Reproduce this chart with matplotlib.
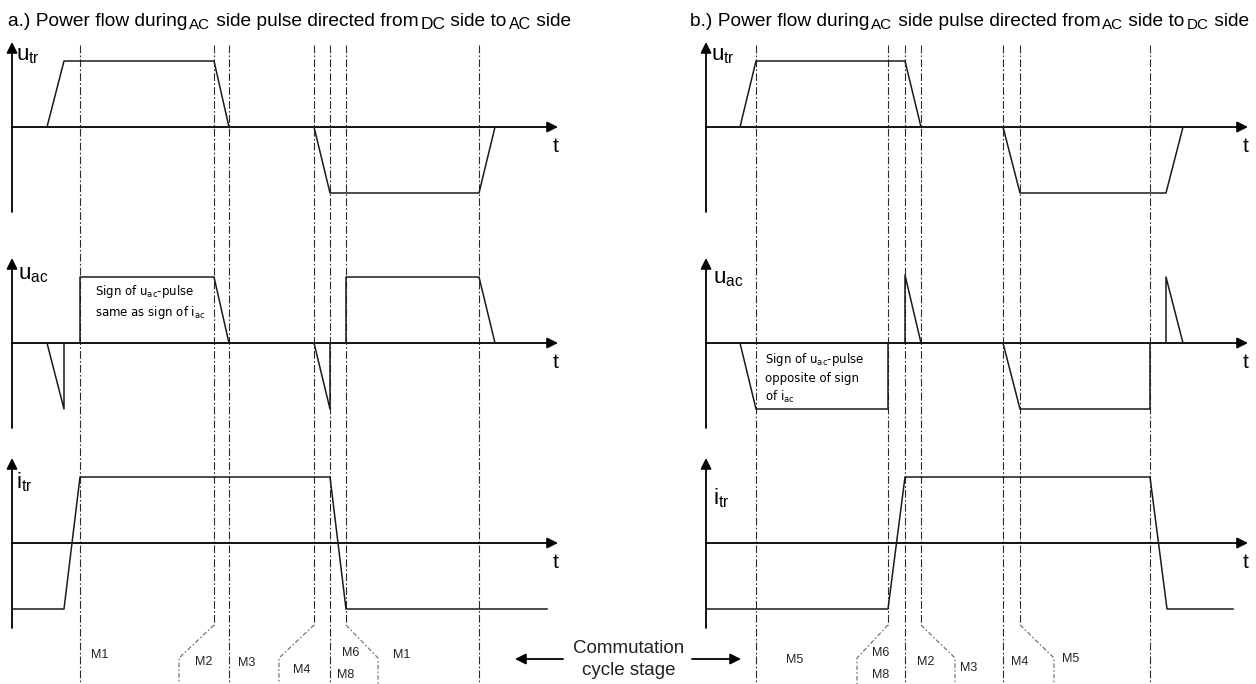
import matplotlib
matplotlib.use("Agg")
from matplotlib import pyplot as plt

plt.rcParams['font.family'] = ['Liberation Sans', 'DejaVu Sans']
plt.rcParams['mathtext.default'] = 'regular'

W, H = 1256, 684
AMP = 66.0          # pixels per unit level
HALF = 85.0         # half height of each trace row (pixels)
ROW_ZERO = [127, 343, 543]

##################################################  data  ##################################################
# time breakpoints (arbitrary time units along the page) and levels (+1 / 0 / -1)
# a.) power flow DC -> AC
a_stage = [80, 214, 229, 314, 330, 346, 479]
a_stage_bent = [214, 314, 346]
a_utr_t = [47, 64, 214, 229, 314, 330, 479, 495]
a_utr_v = [0, 1, 1, 0, 0, -1, -1, 0]
a_uac_t = [47, 64, 64, 80, 80, 214, 229, 314, 330, 330, 346, 346, 479, 495]
a_uac_v = [0, -1, 0, 0, 1, 1, 0, 0, -1, 0, 0, 1, 1, 0]
a_itr_t = [12, 64, 80, 330, 346, 547]
a_itr_v = [-1, -1, 1, 1, -1, -1]
a_labels = ["M1", "M2", "M3", "M4", "M6", "M8", "M1"]

# b.) power flow AC -> DC
b_stage = [756, 888, 905, 921, 1003, 1020, 1150]
b_stage_bent = [888, 921, 1020]
b_utr_t = [740, 756, 905, 921, 1003, 1020, 1166, 1183]
b_utr_v = [0, 1, 1, 0, 0, -1, -1, 0]
b_uac_t = [740, 756, 888, 888, 905, 905, 921, 1003, 1020, 1150, 1150, 1166, 1166, 1183]
b_uac_v = [0, -1, -1, 0, 0, 1.03, 0, 0, -1, -1, 0, 0, 1, 0]
b_itr_t = [706, 888, 905, 1150, 1167, 1233]
b_itr_v = [-1, -1, 1, 1, -1, -1]
b_labels = ["M5", "M6", "M8", "M2", "M3", "M4", "M5"]

##################################################  layout  ##################################################
a_span, b_span = (0, 620), (620, 1256)
a_axis, b_axis = 12, 706
a_tip, b_tip = 558, 1248
a_label_xy = [(100, 655), (204, 662), (247, 663), (302, 670), (351, 653), (346, 675), (402, 655)]
b_label_xy = [(795, 660), (881, 653), (881, 675), (926, 662), (969, 668), (1020, 662), (1071, 659)]
a_leader = [179, 279, 378]
b_leader = [857, 955, 1054]

fig = plt.figure(figsize=(W / 100, H / 100), dpi=100)
ov = fig.add_axes([0, 0, 1, 1])
ov.set_xlim(0, W)
ov.set_ylim(H, 0)
ov.axis('off')

dash = dict(color='#2a2a2a', lw=0.8, dashes=(7, 2, 1.5, 2))


def stage_lines(stage, bent, leader):
    for t in stage:
        if t in bent:
            ov.plot([t, t], [45, 625], **dash)
        else:
            ov.plot([t, t], [45, 684], **dash)
    for t, lt in zip(bent, leader):
        ov.plot([t, lt, lt], [625, 658, 684], color='#666666', lw=0.8, dashes=(4, 2, 1.5, 2))


def row(span, zero):
    ax = fig.add_axes([span[0] / W, (H - zero - HALF) / H, (span[1] - span[0]) / W, 2 * HALF / H])
    ax.set_xlim(span)
    ax.set_ylim(-HALF / AMP, HALF / AMP)
    ax.axis('off')
    ax.patch.set_alpha(0)
    return ax


def trace(ax, axis_t, tip, t, v, name, name_xy):
    arr = dict(arrowstyle='-|>', color='k', lw=1.3, mutation_scale=16, shrinkA=0, shrinkB=0)
    ax.annotate('', xy=(axis_t, HALF / AMP), xytext=(axis_t, -HALF / AMP), arrowprops=arr)
    ax.annotate('', xy=(tip, 0), xytext=(axis_t, 0), arrowprops=arr)
    ax.plot(t, v, color='#1a1a1a', lw=1.1, zorder=3)
    ax.text(tip - 2, -0.3, 't', fontsize=15, ha='center', va='center')
    ax.text(name_xy[0], name_xy[1], name, fontsize=16, ha='left', va='center')


def title(x, y, pieces, sizes):
    prev = ov.text(x, y, pieces[0], va='baseline', fontsize=13.8)
    for i, p in enumerate(pieces[1:]):
        if i % 2 == 0:
            prev = ov.annotate(p, xy=(1, 0), xycoords=prev, xytext=(1.5, -1.5),
                               textcoords='offset points', va='bottom', fontsize=sizes[i // 2])
        else:
            prev = ov.annotate(p, xy=(1, 0), xycoords=prev, xytext=(0, 1.5),
                               textcoords='offset points', va='bottom', fontsize=13.8)


stage_lines(a_stage, a_stage_bent, a_leader)
stage_lines(b_stage, b_stage_bent, b_leader)

r = row(a_span, ROW_ZERO[0])
trace(r, a_axis, a_tip, a_utr_t, a_utr_v, 'u$_{tr}$', (16, 1.08))
r = row(a_span, ROW_ZERO[1])
trace(r, a_axis, a_tip, a_uac_t, a_uac_v, 'u$_{ac}$', (18, 1.04))
r.text(95, 0.62, 'Sign of u$_{ac}$-pulse\nsame as sign of i$_{ac}$', fontsize=8.5,
       family=['DejaVu Sans'], va='center', linespacing=1.4)
r = row(a_span, ROW_ZERO[2])
trace(r, a_axis, a_tip, a_itr_t, a_itr_v, 'i$_{tr}$', (16, 0.92))

r = row(b_span, ROW_ZERO[0])
trace(r, b_axis, b_tip, b_utr_t, b_utr_v, 'u$_{tr}$', (711, 1.08))
r = row(b_span, ROW_ZERO[1])
trace(r, b_axis, b_tip, b_uac_t, b_uac_v, 'u$_{ac}$', (713, 0.98))
r.text(765, -0.53, 'Sign of u$_{ac}$-pulse\nopposite of sign\nof i$_{ac}$', fontsize=8.5,
       family=['DejaVu Sans'], va='center', linespacing=1.4)
r = row(b_span, ROW_ZERO[2])
trace(r, b_axis, b_tip, b_itr_t, b_itr_v, 'i$_{tr}$', (713, 0.68))

for lab, (x, y) in zip(a_labels, a_label_xy):
    ov.text(x, y, lab, fontsize=9, ha='center', va='center', color='#222222')
for lab, (x, y) in zip(b_labels, b_label_xy):
    ov.text(x, y, lab, fontsize=9, ha='center', va='center', color='#222222')

title(8, 26, ["a.) Power flow during", "AC", " side pulse directed from", "DC", " side to", "AC", " side"],
      [11, 12.5, 11.5])
title(690, 26, ["b.) Power flow during", "AC", " side pulse directed from", "AC", " side to", "DC", " side"],
      [11, 11, 11])

ov.text(629, 653, 'Commutation', fontsize=13.5, ha='center', va='baseline', color='#222222')
ov.text(629, 675, 'cycle stage', fontsize=13.5, ha='center', va='baseline', color='#222222')
big = dict(arrowstyle='-|>', color='k', lw=1.3, mutation_scale=16, shrinkA=0, shrinkB=0)
ov.annotate('', xy=(515, 659), xytext=(563, 659), arrowprops=big)
ov.annotate('', xy=(741, 659), xytext=(692, 659), arrowprops=big)

fig.savefig('out.png', dpi=100)
